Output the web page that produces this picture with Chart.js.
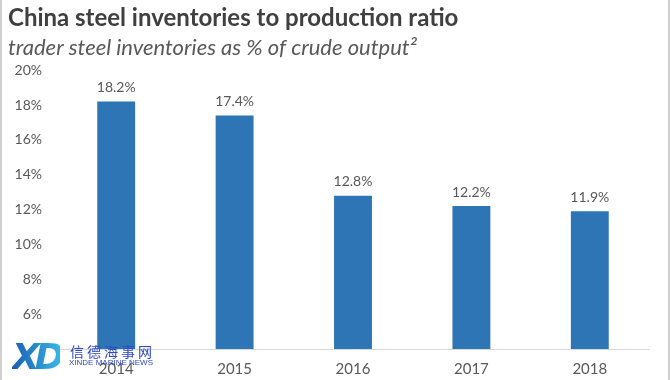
<!DOCTYPE html>
<html>
<head>
<meta charset="utf-8">
<script src="https://cdn.jsdelivr.net/npm/chart.js@4"></script>
<style>
  body { margin: 0; background: #fff; }
  #wrap { position: relative; width: 670px; height: 380px; }
  #frame { position: absolute; left: 0; top: 0; width: 670px; height: 380px; box-sizing: border-box;
           border-left: 2px solid #d0d0d0; border-right: 2px solid #d0d0d0; pointer-events: none; }
  #mark { position: absolute; left: 12px; top: 339px; pointer-events: none; }
  #mark .xd { position: absolute; left: 0; top: -3px; font: italic 900 36px "DejaVu Sans", sans-serif; letter-spacing: -5px;
              background: linear-gradient(90deg, #1a5fb0, #35b6e8); -webkit-background-clip: text; background-clip: text; color: transparent; }
  #mark .cn { position: absolute; left: 58px; top: 2px; font: 14px "Noto Sans CJK SC", sans-serif; color: #2c48c8; letter-spacing: 3px; white-space: nowrap; }
  #mark .en { position: absolute; left: 57px; top: 19px; font: 8px "Liberation Sans", sans-serif; color: #2c48c8; white-space: nowrap; }
</style>
</head>
<body>
<div id="wrap">
  <canvas id="steelChart" width="670" height="380"></canvas>
  <div id="mark"><span class="xd">XD</span><span class="cn">信德海事网</span><span class="en">XINDE MARINE NEWS</span></div>
  <div id="frame"></div>
</div>
<script>
// chart data
const years = ['2014', '2015', '2016', '2017', '2018'];
const inventoryRatio = [18.2, 17.4, 12.8, 12.2, 11.9];
const yTicks = [4, 6, 8, 10, 12, 14, 16, 18, 20];

// draws the % value above each bar (no datalabels plugin offline)
const valueLabels = {
    id: 'valueLabels',
    afterDatasetsDraw(chart) {
        const ctx = chart.ctx;
        const meta = chart.getDatasetMeta(0);
        ctx.save();
        ctx.font = '14px Lato, sans-serif';
        ctx.fillStyle = '#595959';
        ctx.textAlign = 'center';
        ctx.textBaseline = 'bottom';
        meta.data.forEach((bar, i) => {
            ctx.fillText(inventoryRatio[i].toFixed(1) + '%', bar.x, bar.y - 7);
        });
        ctx.restore();
    }
};

const ctx = document.getElementById('steelChart').getContext('2d');
new Chart(ctx, {
    type: 'bar',
    data: {
        labels: years,
        datasets: [{
            data: inventoryRatio,
            backgroundColor: '#2e75b6',
            borderColor: '#2e75b6',
            borderWidth: 0,
            barPercentage: 0.32,
            categoryPercentage: 1
        }]
    },
    options: {
        responsive: false,
        animation: false,
        layout: { padding: { left: 8, right: 21, top: 0, bottom: 0 } },
        plugins: {
            legend: { display: false },
            tooltip: { enabled: false },
            title: {
                display: true,
                text: 'China steel inventories to production ratio',
                align: 'start',
                color: '#404040',
                font: { family: 'Lato', size: 24, weight: 'bold' },
                padding: { top: 4, bottom: 2 }
            },
            subtitle: {
                display: true,
                text: 'trader steel inventories as % of crude output²',
                align: 'start',
                color: '#595959',
                font: { family: 'Lato', size: 22, style: 'italic' },
                padding: { top: 0, bottom: 9 }
            }
        },
        scales: {
            x: {
                afterFit: scale => { scale.height = 31; },
                grid: { display: false, drawTicks: false },
                border: { display: true, color: '#d9d9d9', width: 1 },
                ticks: { color: '#595959', font: { family: 'Lato', size: 15 }, padding: 11 }
            },
            y: {
                min: 4,
                max: 20,
                afterFit: scale => { scale.width = 49; },
                afterBuildTicks: scale => { scale.ticks = yTicks.map(v => ({ value: v })); },
                grid: { display: false, drawTicks: false },
                border: { display: false },
                ticks: {
                    color: '#595959',
                    font: { family: 'Lato', size: 14 },
                    padding: 15,
                    callback: v => (v === 4 ? '' : v + '%')
                }
            }
        }
    },
    plugins: [valueLabels]
});
</script>
</body>
</html>
